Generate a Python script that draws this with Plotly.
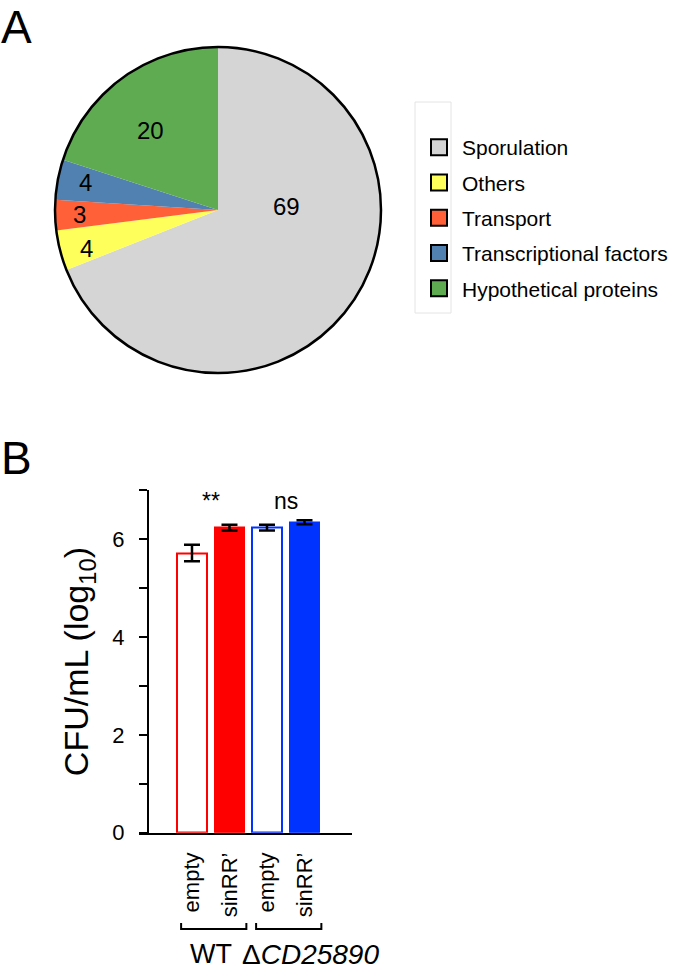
import math
import plotly.graph_objects as go

# ---------------- data ----------------
pie_labels = ["Sporulation", "Others", "Transport", "Transcriptional factors", "Hypothetical proteins"]
pie_values = [69, 4, 3, 4, 20]
pie_colors = ["#d5d5d5", "#ffff5c", "#ff6038", "#5181b1", "#5eab52"]

bar_labels = ["empty", "sinRR\u2019", "empty", "sinRR\u2019"]
bar_values = [5.72, 6.24, 6.24, 6.35]
bar_errors = [0.17, 0.06, 0.06, 0.04]
bar_groups = ["WT", "\u0394<i>CD25890</i>"]
group_members = [[0, 1], [2, 3]]
signif_labels = ["**", "ns"]
y_ticks = [0, 1, 2, 3, 4, 5, 6, 7]
y_ticklabels = ["0", "", "2", "", "4", "", "6", ""]

# ---------------- styles ----------------
W, H = 685, 970
FONT = "Liberation Sans, Arial, sans-serif"
bar_fill = ["white", "#ff0000", "white", "#0033ff"]
bar_line = ["#ff0000", "#ff0000", "#0033ff", "#0033ff"]

def px(x):
    return x / W

def py(y):
    return 1 - y / H

# pie geometry (pixels)
PCX, PCY, PR = 218, 210, 163
label_r = [0.42, 0.84, 0.85, 0.83, 0.64]
label_dtheta = [-37, -2, 0, 1, -4]

fig = go.Figure()

fig.add_trace(go.Pie(
    labels=pie_labels, values=pie_values, sort=False, direction="clockwise",
    rotation=0, marker=dict(colors=pie_colors, line=dict(width=0)),
    textinfo="none", hoverinfo="label+value", showlegend=False, automargin=False,
    domain=dict(x=[px(PCX - PR), px(PCX + PR)], y=[py(PCY + PR), py(PCY - PR)]),
))

# legend entries (dummy traces to get bordered squares)
for lab, col in zip(pie_labels, pie_colors):
    fig.add_trace(go.Scatter(
        x=[None], y=[None], mode="markers", name=lab, legendgroup=lab,
        marker=dict(symbol="square", size=16, color=col, line=dict(color="black", width=2)),
    ))

# bars
xs = list(range(len(bar_values)))
fig.add_trace(go.Bar(
    x=xs, y=bar_values, width=0.78,
    marker=dict(color=bar_fill, line=dict(color=bar_line, width=2)),
    error_y=dict(type="data", array=bar_errors, color="black", thickness=2.5, width=8),
    showlegend=False,
))

annotations = []
# pie labels from cumulative values
total = sum(pie_values)
cum = 0
for i, v in enumerate(pie_values):
    mid = (cum + v / 2) / total * 360 + label_dtheta[i]
    cum += v
    t = math.radians(mid)
    lx = PCX + label_r[i] * PR * math.sin(t)
    ly = PCY - label_r[i] * PR * math.cos(t)
    annotations.append(dict(x=px(lx), y=py(ly), xref="paper", yref="paper", text=str(v),
                            xanchor="center", yanchor="middle",
                            showarrow=False, font=dict(size=24, color="black", family=FONT)))

# panel letters
annotations.append(dict(x=px(0), y=py(0), xref="paper", yref="paper", text="A", showarrow=False,
                        xanchor="left", yanchor="top", borderpad=0,
                        font=dict(size=46, color="black", family=FONT)))
annotations.append(dict(x=px(0), y=py(431), xref="paper", yref="paper", text="B", showarrow=False,
                        xanchor="left", yanchor="top", borderpad=0,
                        font=dict(size=46, color="black", family=FONT)))

# significance labels
for lab, mem in zip(signif_labels, group_members):
    annotations.append(dict(x=sum(mem) / len(mem), y=6.78, xref="x", yref="y", text=lab,
                            xanchor="center", yanchor="middle",
                            showarrow=False, font=dict(size=23, color="black", family=FONT)))

# group labels
annotations.append(dict(x=sum(group_members[0]) / 2, y=py(954), xref="x", yref="paper",
                        text=bar_groups[0], showarrow=False, xanchor="center", yanchor="middle",
                        font=dict(size=27, color="black", family=FONT)))
annotations.append(dict(x=group_members[1][0] - 0.72, y=py(954), xref="x", yref="paper",
                        text=bar_groups[1], showarrow=False, xanchor="left", yanchor="middle",
                        font=dict(size=28, color="black", family=FONT)))

shapes = []
# pie outline
shapes.append(dict(type="circle", xref="paper", yref="paper",
                   x0=px(PCX - PR), x1=px(PCX + PR), y0=py(PCY + PR), y1=py(PCY - PR),
                   line=dict(color="black", width=2.5)))
# legend frame
shapes.append(dict(type="rect", xref="paper", yref="paper", x0=px(415), x1=px(451),
                   y0=py(313), y1=py(102), line=dict(color="#e4e4e4", width=1)))
# group brackets
for mem in group_members:
    a, b = mem[0] - 0.29, mem[-1] + 0.45
    shapes.append(dict(type="path", xref="x", yref="paper",
                       path=f"M {a},{py(923)} L {a},{py(929)} L {b},{py(929)} L {b},{py(923)}",
                       line=dict(color="black", width=2)))

fig.update_layout(
    width=W, height=H, margin=dict(l=0, r=0, t=0, b=0, pad=0, autoexpand=False),
    paper_bgcolor="white", plot_bgcolor="white",
    font=dict(family=FONT, color="black"),
    annotations=annotations, shapes=shapes,
    bargap=0,
    legend=dict(x=px(416), y=py(127), xanchor="left", yanchor="top",
                font=dict(size=21, family=FONT, color="black"), itemwidth=36,
                tracegroupgap=5, bgcolor="rgba(0,0,0,0)", itemclick=False),
    xaxis=dict(domain=[px(139), px(352)], range=[-1.413, 4.267], showline=True,
               linecolor="black", linewidth=2, ticks="", tickvals=xs, ticktext=bar_labels,
               tickangle=-90, tickfont=dict(size=22, family=FONT, color="black"),
               showgrid=False, zeroline=False, ticklabelstandoff=9, fixedrange=True,
               automargin=False),
    yaxis=dict(domain=[py(832.7), py(490.4)], range=[0, 7], anchor="free", position=px(148),
               showline=True, linecolor="black", linewidth=2, ticks="outside", ticklen=8,
               tickwidth=2, tickcolor="black", tickvals=y_ticks, ticktext=y_ticklabels,
               tickfont=dict(size=22, family=FONT, color="black"), ticklabelstandoff=10,
               showgrid=False, zeroline=False, fixedrange=True, automargin=False,
               title=dict(text="CFU/mL (log<sub>10</sub>)", font=dict(size=34, family=FONT, color="black"),
                          standoff=12)),
)

fig.write_html(
    "out.html",
    config={"displayModeBar": False},
    post_script=("document.body.style.margin='0';"
                 "document.body.style.overflow='hidden';"
                 "document.documentElement.style.overflow='hidden';"),
)
